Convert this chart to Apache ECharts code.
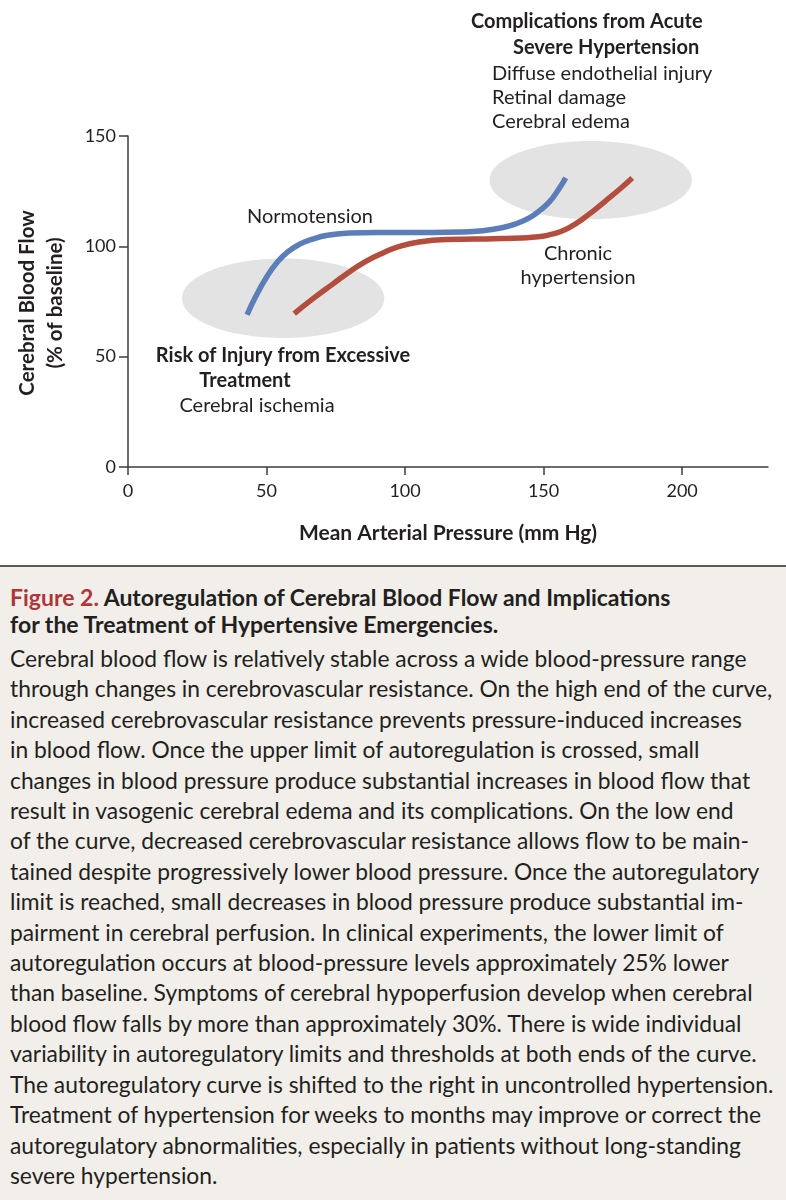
<!DOCTYPE html>
<html>
<head>
<meta charset="utf-8">
<script src="https://cdn.jsdelivr.net/npm/echarts@6/dist/echarts.min.js"></script>
<style>
  html, body { margin: 0; padding: 0; background: #ffffff; }
  #chart { width: 786px; height: 565px; }
  #caption {
    width: 786px; height: 635px; box-sizing: border-box;
    border-top: 2px solid #5a5a5a; background: #f2efea;
    padding: 17px 0 0 10px; font-family: Lato, "Open Sans", sans-serif; color: #231f20;
  }
  #caption .title { font-size: 23px; font-weight: 700; line-height: 27px; white-space: nowrap; }
  #caption .title .fig { color: #b0353a; }
  #caption .body { margin-top: 5px; font-size: 22.8px; line-height: 30.4px; white-space: nowrap; }
</style>
</head>
<body>
<div id="chart"></div>
<div id="caption">
  <div class="title"><span class="fig">Figure 2.</span> Autoregulation of Cerebral Blood Flow and Implications<br>for the Treatment of Hypertensive Emergencies.</div>
  <div class="body">Cerebral blood flow is relatively stable across a wide blood-pressure range<br>through changes in cerebrovascular resistance. On the high end of the curve,<br>increased cerebrovascular resistance prevents pressure-induced increases<br>in blood flow. Once the upper limit of autoregulation is crossed, small<br>changes in blood pressure produce substantial increases in blood flow that<br>result in vasogenic cerebral edema and its complications. On the low end<br>of the curve, decreased cerebrovascular resistance allows flow to be main-<br>tained despite progressively lower blood pressure. Once the autoregulatory<br>limit is reached, small decreases in blood pressure produce substantial im-<br>pairment in cerebral perfusion. In clinical experiments, the lower limit of<br>autoregulation occurs at blood-pressure levels approximately 25% lower<br>than baseline. Symptoms of cerebral hypoperfusion develop when cerebral<br>blood flow falls by more than approximately 30%. There is wide individual<br>variability in autoregulatory limits and thresholds at both ends of the curve.<br>The autoregulatory curve is shifted to the right in uncontrolled hypertension.<br>Treatment of hypertension for weeks to months may improve or correct the<br>autoregulatory abnormalities, especially in patients without long-standing<br>severe hypertension.</div>
</div>
<script>
// ---- data ----
const xTicks = [0, 50, 100, 150, 200];
const yTicks = [0, 50, 100, 150];

const normoX = [43, 46, 50, 54, 58, 62, 66, 72, 80, 90, 100, 110, 120, 128, 134, 140, 145, 149, 152, 155, 158];
const normoY = [69, 77, 86, 93, 97.8, 101, 103, 105, 106, 106.3, 106.3, 106.3, 106.5, 107.1, 108.2, 110.2, 113, 116.6, 120, 125, 131];

const chronicX = [60, 67, 74, 80, 86, 92, 98, 105, 115, 125, 135, 142, 148, 152, 156, 160, 164, 168, 172, 177, 182];
const chronicY = [69.5, 76.5, 83, 88.5, 93.3, 97, 100, 102, 103.1, 103.3, 103.5, 103.8, 104.3, 105.2, 106.6, 109, 112.3, 116.1, 120.2, 125.4, 131];

const zoneX = [56, 167];
const zoneY = [76.5, 130];
const zoneRx = [36.5, 36.5];
const zoneRy = [18, 17.7];

const pairs = (xs, ys) => xs.map((x, i) => [x, ys[i]]);

const FONT = 'Lato, "Open Sans", sans-serif';
const chart = echarts.init(document.getElementById('chart'), null, { renderer: 'canvas' });

const txt = (x, y, text, bold, align) => ({
  type: 'text', x: x, y: y, silent: true,
  style: { text: text, fill: '#231f20', font: (bold ? '700 ' : '400 ') + '20px ' + FONT,
           textAlign: align || 'left', textVerticalAlign: 'middle' }
});

chart.setOption({
  animation: false,
  backgroundColor: '#ffffff',
  grid: { left: 128, right: 18, top: 136, bottom: 98, containLabel: false },
  xAxis: {
    type: 'value', min: 0, max: 231, interval: 50,
    axisLine: { lineStyle: { color: '#3c3c3c', width: 1.5 } },
    axisTick: { show: true, length: 8, lineStyle: { color: '#3c3c3c', width: 1.5 }, customValues: xTicks },
    axisLabel: { color: '#231f20', fontSize: 18, fontFamily: FONT, margin: 15, customValues: xTicks },
    splitLine: { show: false },
    name: 'Mean Arterial Pressure (mm Hg)', nameLocation: 'middle', nameGap: 56,
    nameTextStyle: { color: '#231f20', fontSize: 21, fontWeight: 'bold', fontFamily: FONT }
  },
  yAxis: {
    type: 'value', min: 0, max: 150, interval: 50,
    axisLine: { show: true, lineStyle: { color: '#3c3c3c', width: 1.5 } },
    axisTick: { show: true, length: 9, lineStyle: { color: '#3c3c3c', width: 1.5 }, customValues: yTicks },
    axisLabel: { color: '#231f20', fontSize: 18, fontFamily: FONT, margin: 12, customValues: yTicks },
    splitLine: { show: false }
  },
  graphic: [
    txt(471, 22, 'Complications from Acute', true),
    txt(513, 48, 'Severe Hypertension', true),
    txt(492, 74, 'Diffuse endothelial injury', false),
    txt(492, 98, 'Retinal damage', false),
    txt(492, 122, 'Cerebral edema', false),
    txt(310, 217, 'Normotension', false, 'center'),
    txt(578, 254, 'Chronic', false, 'center'),
    txt(578, 278, 'hypertension', false, 'center'),
    txt(283, 356, 'Risk of Injury from Excessive', true, 'center'),
    txt(245, 381, 'Treatment', true, 'center'),
    txt(257, 406, 'Cerebral ischemia', false, 'center'),
    {
      type: 'text', x: 27, y: 303, rotation: Math.PI / 2, silent: true,
      style: { text: 'Cerebral Blood Flow', fill: '#231f20', font: '700 20.5px ' + FONT,
               textAlign: 'center', textVerticalAlign: 'middle' }
    },
    {
      type: 'text', x: 55, y: 303, rotation: Math.PI / 2, silent: true,
      style: { text: '(% of baseline)', fill: '#231f20', font: '700 20.5px ' + FONT,
               textAlign: 'center', textVerticalAlign: 'middle' }
    }
  ],
  series: [
    {
      type: 'custom', name: 'zones', z: 1, silent: true,
      data: zoneX.map((x, i) => [x, zoneY[i], zoneRx[i], zoneRy[i]]),
      renderItem: function (params, api) {
        const c = api.coord([api.value(0), api.value(1)]);
        const s = api.size([api.value(2), api.value(3)]);
        return { type: 'ellipse', shape: { cx: c[0], cy: c[1], rx: s[0], ry: s[1] },
                 style: { fill: '#e3e3e3' } };
      }
    },
    {
      type: 'line', name: 'Normotension', z: 3, smooth: 0.5, symbol: 'none',
      data: pairs(normoX, normoY),
      lineStyle: { color: '#5b7db8', width: 5.5, cap: 'butt' }
    },
    {
      type: 'line', name: 'Chronic hypertension', z: 3, smooth: 0.5, symbol: 'none',
      data: pairs(chronicX, chronicY),
      lineStyle: { color: '#b34e3f', width: 5.5, cap: 'butt' }
    }
  ]
});
</script>
</body>
</html>
